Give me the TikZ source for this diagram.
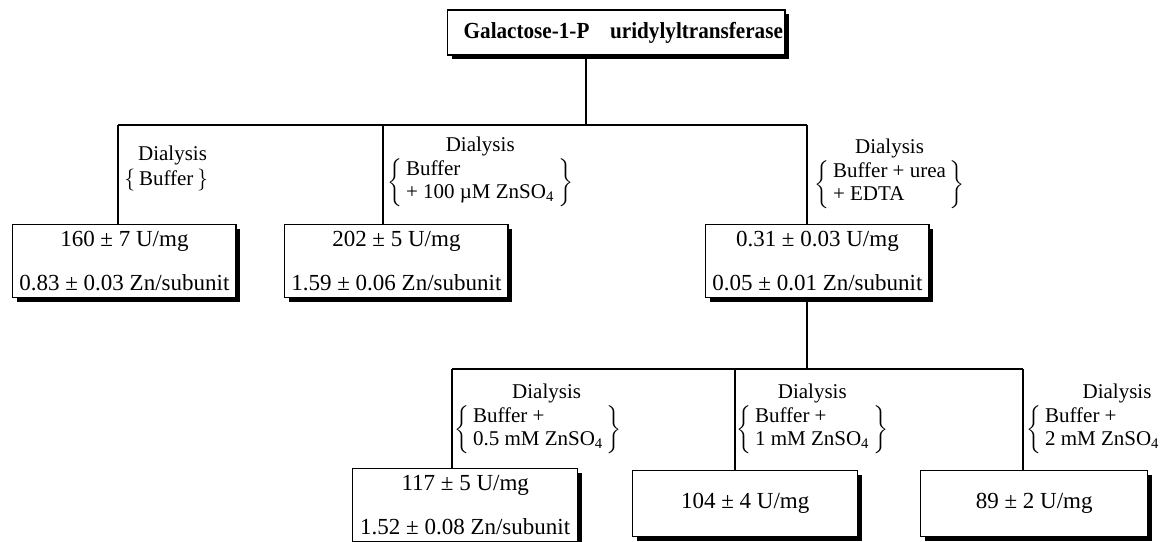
\documentclass[tikz,border=0pt]{standalone}
\usepackage{fontspec}
\setmainfont{Liberation Serif}
\newfontfamily\titlefont[FakeStretch=0.92]{Liberation Serif}
\usetikzlibrary{shadows}
\tikzset{
	result/.style={draw, line width=0.7pt, fill=white, align=center, anchor=north west,
		drop shadow={shadow xshift=2.2pt, shadow yshift=-2.2pt, fill=black, opacity=1}},
	dialysis/.style={anchor=north west, align=center, inner sep=0pt, font=\fontsize{10.5}{11.5}\selectfont},
	branch/.style={line width=0.7pt}
}
\newcommand{\medium}[2][\}]{$\left\{\,\begin{tabular}{@{}l@{}}#2\end{tabular}\,\right#1$}
\begin{document}
\begin{tikzpicture}[x=0.5pt, y=-0.5pt, font=\fontsize{11.5}{12}\selectfont]
	\useasboundingbox (0,0) rectangle (1165,541);
	% enzyme on top
	\node[result, anchor=west, minimum height=22.5pt, inner xsep=8pt] (enzyme) at (447,32.5) {\titlefont\fontsize{11.5}{12}\bfseries Galactose-1-P\hspace{0.9em}uridylyltransferase\hspace{-7pt}};
	% first dialysis step
	\node[result, minimum width=110pt, minimum height=35.5pt] (buffer) at (12,224) {160 ± 7 U/mg\\[10pt]0.83 ± 0.03 Zn/subunit};
	\node[result, minimum width=111.5pt, minimum height=35.5pt] (zinc) at (284,224) {202 ± 5 U/mg\\[10pt]1.59 ± 0.06 Zn/subunit};
	\node[result, minimum width=107.5pt, minimum height=35.5pt] (apo) at (705,224) {0.31 ± 0.03 U/mg\\[10pt]0.05 ± 0.01 Zn/subunit};
	\coordinate (j0) at (586,125);
	\coordinate (j1) at (118,125);
	\coordinate (j2) at (383,125);
	\coordinate (j3) at (807,125);
	\draw[branch] (enzyme.south -| j0) -- (j0);
	\draw[branch] (j1) -- (j3);
	\draw[branch] (j1) -- (j1 |- buffer.north);
	\draw[branch] (j2) -- (j2 |- zinc.north);
	\draw[branch] (j3) -- (j3 |- apo.north);
	\node[dialysis] (d1) at (124,146) {\hspace{0.6em}Dialysis\\[1pt] \medium{Buffer\hspace{1.6em}}};
	\node[dialysis] (d2) at (387,137) {Dialysis\\ \medium{Buffer\\+ 100 µM ZnSO\textsubscript{4}}};
	\node[dialysis] (d3) at (814,139) {Dialysis\\ \medium{Buffer + urea\\+ EDTA}};
	% reconstitution with zinc
	\node[result, minimum width=112.5pt, minimum height=34pt] (half) at (352,468) {117 ± 5 U/mg\\[10pt]1.52 ± 0.08 Zn/subunit};
	\node[result, minimum width=112.5pt, minimum height=33pt] (one) at (632,470) {104 ± 4 U/mg};
	\node[result, minimum width=113.5pt, minimum height=33pt] (two) at (920,470) {89 ± 2 U/mg};
	\coordinate (k0) at (807,369);
	\coordinate (k1) at (452,369);
	\coordinate (k2) at (735,369);
	\coordinate (k3) at (1023,369);
	\draw[branch] (apo.south -| k0) -- (k0);
	\draw[branch] (k1) -- (k3);
	\draw[branch] (k1) -- (k1 |- half.north);
	\draw[branch] (k2) -- (k2 |- one.north);
	\draw[branch] (k3) -- (k3 |- two.north);
	\node[dialysis] (d4) at (454,384) {\hspace{0.8em}Dialysis\\ \medium{Buffer +\\0.5 mM ZnSO\textsubscript{4}}};
	\node[dialysis] (d5) at (736,384) {Dialysis\\ \medium{Buffer +\\1 mM ZnSO\textsubscript{4}\hspace{0.5em}}};
	\node[dialysis] (d6) at (1026,384) {\hspace{2em}Dialysis\\ \medium[.]{Buffer +\\2 mM ZnSO\textsubscript{4}}};
\end{tikzpicture}
\end{document}
